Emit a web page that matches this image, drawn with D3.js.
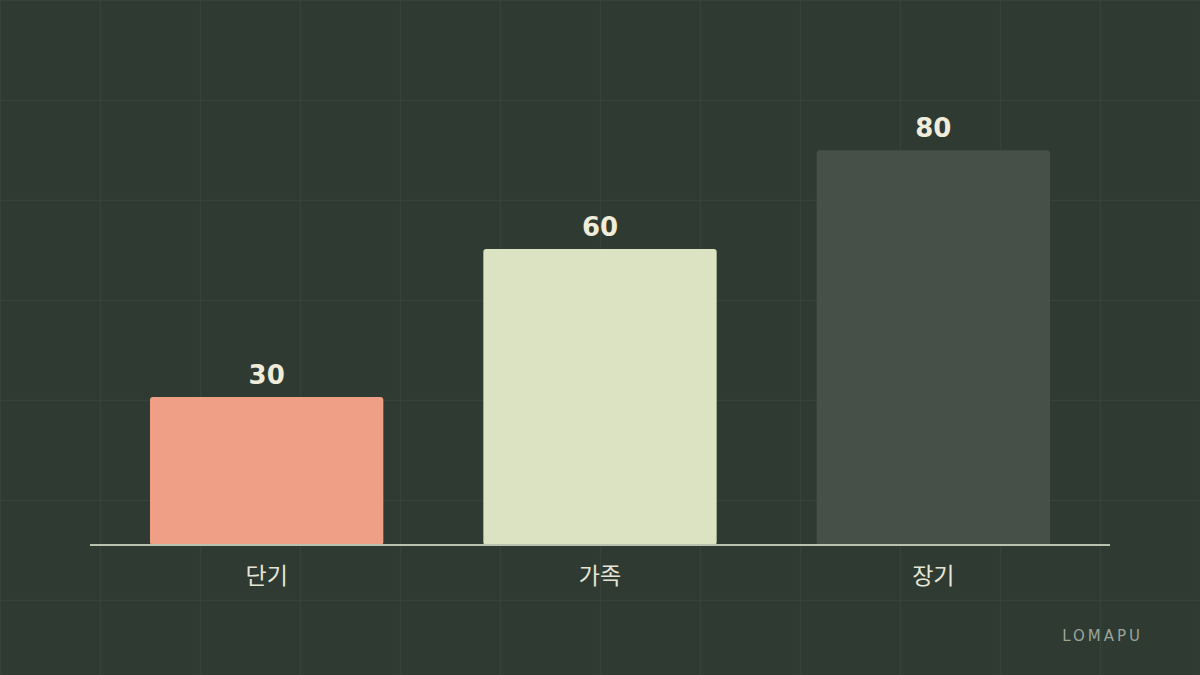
<!DOCTYPE html>
<html><head><meta charset="utf-8">
<script src="https://cdn.jsdelivr.net/npm/d3@7"></script>
<style>html,body{margin:0;padding:0;background:#2f3a32;}svg{display:block;}</style>
</head><body>
<svg id="chart" width="1200" height="675"></svg>
<script>
const categories = ["단기", "가족", "장기"];
const values = [30, 60, 80];
const colors = ["#ee9f85", "#dce3c2", "#465048"];

const W = 1200, H = 675;
const svg = d3.select("#chart");
svg.append("rect").attr("width", W).attr("height", H).attr("fill", "#2f3a32");

// background grid
const gx = d3.range(0, W + 1, 100), gy = d3.range(0, H + 1, 100);
svg.append("g").selectAll("line").data(gx).join("line")
  .attr("x1", d => d + 0.5).attr("x2", d => d + 0.5).attr("y1", 0).attr("y2", H)
  .attr("stroke", "#37433a").attr("stroke-width", 1.5);
svg.append("g").selectAll("line").data(gy).join("line")
  .attr("y1", d => d + 0.5).attr("y2", d => d + 0.5).attr("x1", 0).attr("x2", W)
  .attr("stroke", "#37433a").attr("stroke-width", 1.5);

const x = d3.scaleBand().domain(categories).range([100, 1100]).paddingInner(0.3).paddingOuter(0.15);
const y = d3.scaleLinear().domain([0, 100]).range([545, 51.5]);

svg.append("g").selectAll("rect").data(values).join("rect")
  .attr("x", (d, i) => x(categories[i]))
  .attr("y", d => y(d))
  .attr("width", x.bandwidth())
  .attr("height", d => y(0) - y(d))
  .attr("rx", 3).attr("ry", 3)
  .attr("fill", (d, i) => colors[i]);

svg.append("line").attr("x1", 90).attr("x2", 1110).attr("y1", 545).attr("y2", 545)
  .attr("stroke", "#b9c1b1").attr("stroke-width", 2);

svg.append("g").selectAll("text").data(values).join("text")
  .attr("x", (d, i) => x(categories[i]) + x.bandwidth() / 2)
  .attr("y", d => y(d) - 13)
  .attr("text-anchor", "middle")
  .attr("font-family", "DejaVu Sans, sans-serif")
  .attr("font-weight", "bold").attr("font-size", 26)
  .attr("fill", "#efedda")
  .text(d => d);

svg.append("g").selectAll("text").data(categories).join("text")
  .attr("x", d => x(d) + x.bandwidth() / 2)
  .attr("y", 584)
  .attr("text-anchor", "middle")
  .attr("font-family", "'Noto Sans CJK KR', sans-serif")
  .attr("font-size", 23)
  .attr("fill", "#e6e6d6")
  .text(d => d);

svg.append("text").attr("x", 1143).attr("y", 641)
  .attr("text-anchor", "end")
  .attr("font-family", "DejaVu Sans, sans-serif")
  .attr("font-size", 15).attr("letter-spacing", 3)
  .attr("fill", "#9aa49b")
  .text("LOMAPU");
</script>
</body></html>
